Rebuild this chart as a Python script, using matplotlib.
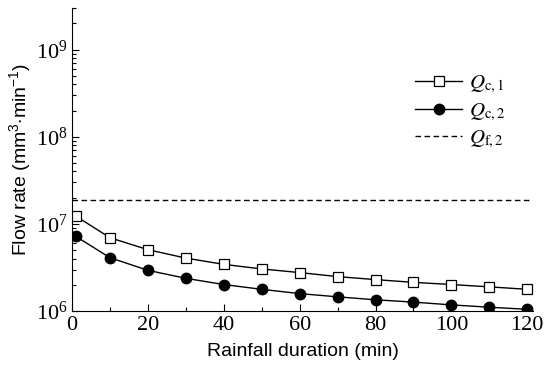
import numpy as np
import matplotlib
matplotlib.use('Agg')
import matplotlib.pyplot as plt
from matplotlib.ticker import LogFormatterMathtext, LogLocator, MultipleLocator

# Data
t = [1, 10, 20, 30, 40, 50, 60, 70, 80, 90, 100, 110, 120]
q_c1 = [1.23e7, 6.95e6, 5.07e6, 4.06e6, 3.44e6, 3.05e6, 2.77e6,
        2.49e6, 2.30e6, 2.14e6, 2.02e6, 1.90e6, 1.78e6]
q_c2 = [7.2e6, 4.1e6, 2.94e6, 2.38e6, 2.02e6, 1.78e6, 1.59e6,
        1.46e6, 1.35e6, 1.27e6, 1.18e6, 1.11e6, 1.05e6]
q_f2 = 1.89e7
labels = [r'$Q_{\mathrm{c,1}}$', r'$Q_{\mathrm{c,2}}$', r'$Q_{\mathrm{f,2}}$']

plt.rcParams['mathtext.fontset'] = 'custom'
plt.rcParams['mathtext.rm'] = 'Liberation Sans'
plt.rcParams['mathtext.it'] = 'Liberation Sans:italic'

fig = plt.figure(figsize=(5.5, 3.79), dpi=100)
ax = fig.add_axes([0.131, 0.179, 0.838, 0.800])

ax.plot(t, q_c1, color='black', lw=1.0, marker='s', ms=6.5,
        mfc='white', mec='black', mew=0.9, label=labels[0])
ax.plot(t, q_c2, color='black', lw=1.0, marker='o', ms=7.5,
        mfc='black', mec='black', label=labels[1])
ax.plot([0, 121.5], [q_f2, q_f2], color='black', lw=1.0,
        ls=(0, (4, 2.5)), label=labels[2])

ax.set_yscale('log')
ax.set_xlim(0, 121.5)
ax.set_ylim(1e6, 3e9)

ax.xaxis.set_major_locator(MultipleLocator(20))
ax.xaxis.set_minor_locator(MultipleLocator(10))
ax.yaxis.set_major_locator(LogLocator(base=10))
ax.yaxis.set_minor_locator(LogLocator(base=10, subs=np.arange(2, 10)))
ax.yaxis.set_major_formatter(LogFormatterMathtext())

for s in ['top', 'right']:
    ax.spines[s].set_visible(False)
for s in ['left', 'bottom']:
    ax.spines[s].set_linewidth(0.8)

ax.tick_params(which='both', direction='in', width=0.8)
ax.tick_params(which='major', length=5)
ax.tick_params(which='minor', length=3)
for lab in ax.get_xticklabels() + ax.get_yticklabels():
    lab.set_fontfamily('Liberation Serif')
    lab.set_fontsize(16)
    lab.set_math_fontfamily('stix')

ax.set_xlabel('Rainfall duration (min)', family='Liberation Sans',
              fontsize=14, labelpad=6)
ax.set_ylabel(r'Flow rate (mm$^{3}$$\cdot$min$^{-1}$)', family='Liberation Sans',
              fontsize=14, labelpad=2)

leg = ax.legend(loc='upper right', bbox_to_anchor=(0.98, 0.845), frameon=False,
                handlelength=2.3, handletextpad=0.3, labelspacing=0.3,
                prop={'family': 'Liberation Serif', 'size': 15,
                      'math_fontfamily': 'stix'})

fig.savefig('out.png', dpi=100)
